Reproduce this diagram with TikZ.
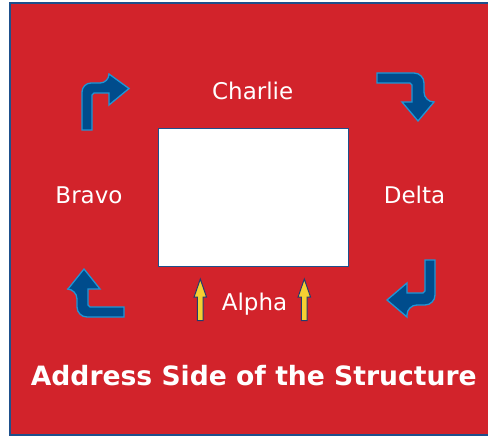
\documentclass[tikz,border=0pt]{standalone}
\usepackage{fontspec}
\setmainfont{DejaVu Sans}
\definecolor{bgred}{RGB}{210,35,43}
\definecolor{frameblue}{RGB}{30,80,140}
\definecolor{arrowfill}{RGB}{0,76,140}
\definecolor{arrowline}{RGB}{30,150,215}
\definecolor{yel}{RGB}{245,208,50}
\definecolor{yelline}{RGB}{35,60,110}
\tikzset{
  bluearrow/.style={fill=arrowfill, draw=arrowline, line width=1.3pt, line join=miter},
  yelarrow/.style={fill=yel, draw=yelline, line width=1pt, line join=miter},
  lbl/.style={text=white, font=\fontsize{23}{26}\selectfont, anchor=base, inner sep=0pt},
  title/.style={text=white, font=\fontsize{26.6}{30}\selectfont\bfseries, anchor=base, inner sep=0pt},
}
\begin{document}
\begin{tikzpicture}[x=1pt,y=-1pt]
\useasboundingbox (0,0) rectangle (488,436);
\clip (0,0) rectangle (488,436);
% background
\draw[fill=bgred, draw=frameblue, line width=2pt] (10,3) rectangle (492,435);
% central box
\node[draw=frameblue, fill=white, line width=0.8pt, minimum width=190pt, minimum height=138pt, inner sep=0pt] (box) at (253,197) {};
% labels
\node[lbl] (charlie) at (252.7,99.3) {Charlie};
\node[lbl] (bravo) at (89,203.3) {Bravo};
\node[lbl] (delta) at (414.5,203.3) {Delta};
\node[lbl] (alpha) at (254.5,310.7) {Alpha};
\node[title] (title) at (253.8,385.7) {Address Side of the Structure};
% blue bent arrows
\draw[bluearrow] (82,130) {[rounded corners=9pt] -- (82,83) -- (109,83)} -- (109,74) -- (129,88.5) -- (109,105) -- (109,93) -- (94,93) -- (92,95) -- (92,130) -- cycle;
\draw[bluearrow] (377,73) {[rounded corners=10pt] -- (424,73) -- (424,102)} -- (434,102) -- (418,121) -- (402,102) -- (412,102) -- (412,85) -- (410,83) -- (377,83) -- cycle;
\draw[bluearrow] (84,269) -- (100,289) -- (88,289) -- (88,305) -- (90,307) -- (124,307) -- (124,317) {[rounded corners=10pt] -- (77,317) -- (77,289)} -- (68,289) -- cycle;
\draw[bluearrow] (425,260) -- (435,260) {[rounded corners=10pt] -- (435,305) -- (407,305)} -- (407,317) -- (387,300) -- (407,283) -- (407,293) -- (423,293) -- (425,291) -- cycle;
% yellow arrows
\draw[yelarrow] (200.3,279) -- (206.5,297) -- (203.2,297) -- (203.2,320.5) -- (197.4,320.5) -- (197.4,297) -- (194.1,297) -- cycle;
\draw[yelarrow] (304.3,279) -- (310.5,297) -- (307.2,297) -- (307.2,320.5) -- (301.4,320.5) -- (301.4,297) -- (298.1,297) -- cycle;
\end{tikzpicture}
\end{document}
